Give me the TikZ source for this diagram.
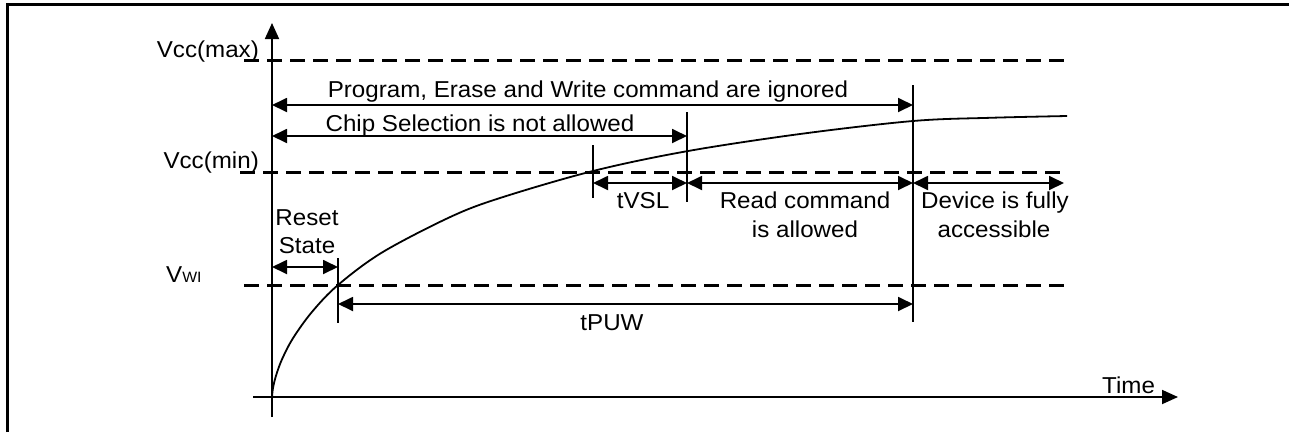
\documentclass[tikz,border=0pt]{standalone}
\usepackage{fontspec}
\setmainfont{Liberation Sans}[FakeStretch=1.05]
\usetikzlibrary{arrows.meta}
\tikzset{
  lbl/.style={inner sep=0pt, font=\fontsize{23}{26}\selectfont},
  thin/.style={line width=1.8pt},
  dimarrow/.style={line width=1.8pt, {Triangle[length=15pt,width=14pt]}-{Triangle[length=15pt,width=14pt]}},
  axisarrow/.style={line width=1.8pt, -{Triangle[length=16pt,width=14pt]}},
  level/.style={line width=3pt, dash pattern=on 15pt off 8pt},
  frame/.style={line width=3pt},
  curve/.style={line width=1.8pt}
}
\begin{document}
\begin{tikzpicture}[x=1pt,y=-1pt]
\useasboundingbox (0,0) rectangle (1289,432);
% frame
\draw[frame] (7,432) -- (7,4) -- (1289,4);
% axes
\coordinate (ybot) at (272,417);
\coordinate (ytop) at (272,23);
\coordinate (xl) at (253,397);
\coordinate (xr) at (1178,397);
\draw[axisarrow] (ybot) -- (ytop);
\draw[axisarrow] (xl) -- (xr);
\node[lbl, anchor=base west] (time) at (1102,393) {Time};
% levels
\coordinate (maxl) at (244,60); \coordinate (maxr) at (1067,60);
\coordinate (minl) at (240,172); \coordinate (minr) at (1067,172);
\coordinate (vwil) at (244,285); \coordinate (vwir) at (1067,285);
\draw[level] (maxl) -- (maxr);
\draw[level] (minl) -- (minr);
\draw[level] (vwil) -- (vwir);
\node[lbl, anchor=base east] (vmax) at (259,57) {Vcc(max)};
\node[lbl, anchor=base east] (vmin) at (259,168) {Vcc(min)};
\node[lbl, anchor=base west] (vwi) at (166,282) {V{\fontsize{15}{15}\selectfont WI}};
% curve
\draw[curve] plot[smooth, tension=0.55] coordinates {
 (272,397) (273,388) (276,375.7) (282,359.3) (293,338.2) (312,311.9) (338,285)
 (382,252.5) (450,217.1) (500,198) (593,171) (687,151.2) (800,134) (913,121)
 (990,117.8) (1067,116)};
% ticks
\coordinate (t913a) at (913,85);  \coordinate (t913b) at (913,322);
\coordinate (t687a) at (687,112); \coordinate (t687b) at (687,202);
\coordinate (t593a) at (593,145); \coordinate (t593b) at (593,198);
\coordinate (t338a) at (338,258); \coordinate (t338b) at (338,323);
\draw[thin] (t913a) -- (t913b);
\draw[thin] (t687a) -- (t687b);
\draw[thin] (t593a) -- (t593b);
\draw[thin] (t338a) -- (t338b);
% dimension arrows
\coordinate (pa) at (272,105); \coordinate (pb) at (913,105);
\draw[dimarrow] (pa) -- (pb);
\node[lbl, anchor=base] (prog) at (588,97) {Program, Erase and Write command are ignored};
\coordinate (ca) at (272,136); \coordinate (cb) at (687,136);
\draw[dimarrow] (ca) -- (cb);
\node[lbl, anchor=base] (chip) at (480,131) {Chip Selection is not allowed};
\coordinate (ra) at (272,267); \coordinate (rb) at (338,267);
\draw[dimarrow] (ra) -- (rb);
\node[lbl, anchor=base] (reset1) at (307,225) {Reset};
\node[lbl, anchor=base] (reset2) at (307,253) {State};
\coordinate (va) at (593,183); \coordinate (vb) at (687,183);
\draw[dimarrow] (va) -- (vb);
\node[lbl, anchor=base] (tvsl) at (643,208) {tVSL};
\coordinate (rda) at (687,183); \coordinate (rdb) at (913,183);
\draw[dimarrow] (rda) -- (rdb);
\node[lbl, anchor=base] (read1) at (805,208) {Read command};
\node[lbl, anchor=base] (read2) at (805,237) {is allowed};
\coordinate (da) at (913,183); \coordinate (db) at (1064,183);
\draw[dimarrow] (da) -- (db);
\node[lbl, anchor=base] (dev1) at (995,208) {Device is fully};
\node[lbl, anchor=base] (dev2) at (994,237) {accessible};
\coordinate (wa) at (338,304); \coordinate (wb) at (913,304);
\draw[dimarrow] (wa) -- (wb);
\node[lbl, anchor=base] (tpuw) at (612,330) {tPUW};
\end{tikzpicture}
\end{document}
